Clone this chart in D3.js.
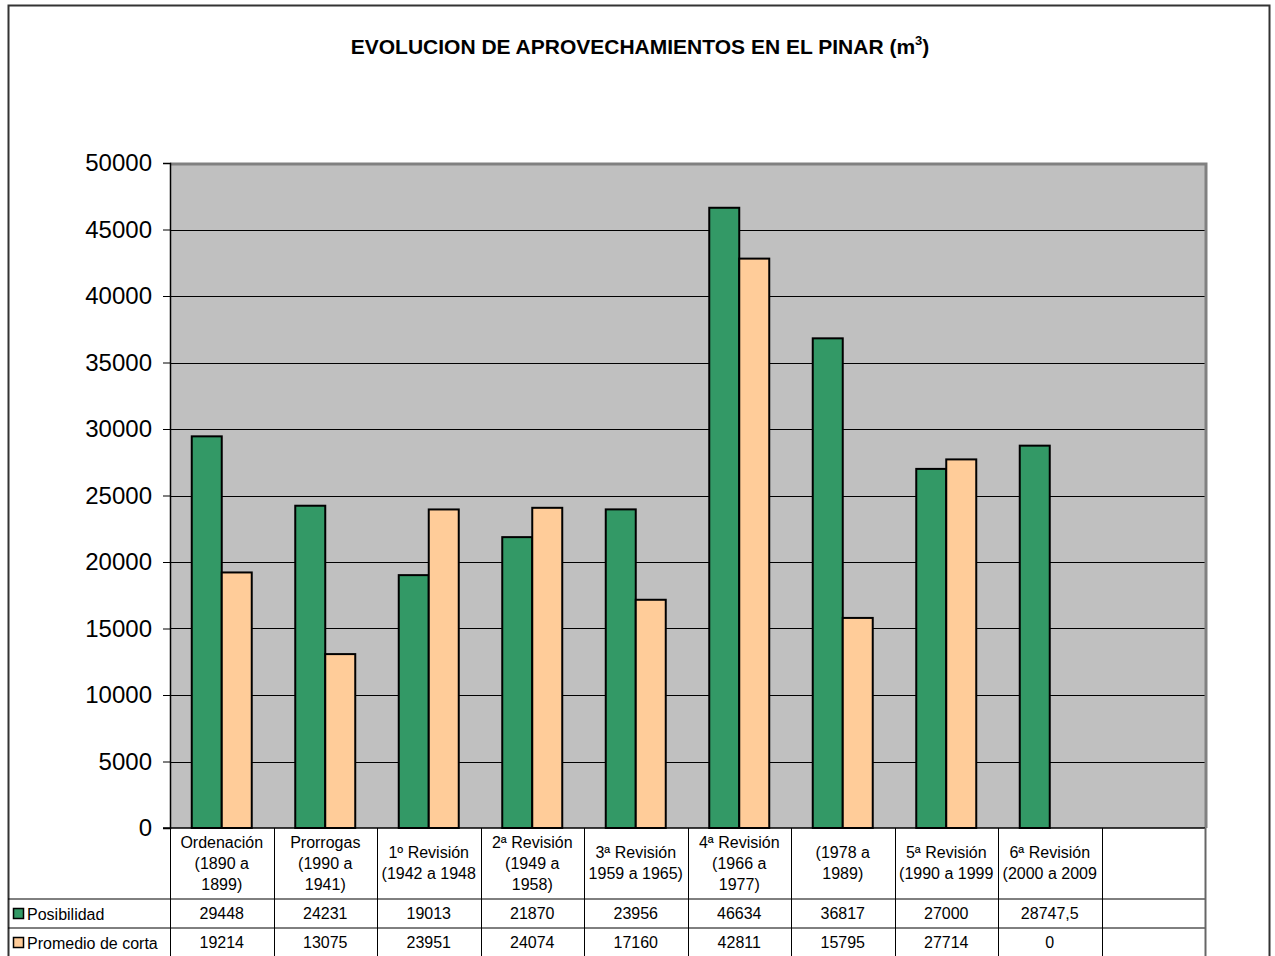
<!DOCTYPE html>
<html><head><meta charset="utf-8">
<script src="https://cdn.jsdelivr.net/npm/d3@7"></script>
<style>body{margin:0;background:#fff;}svg{display:block;font-family:"Liberation Sans",Arial,sans-serif;}</style>
</head><body>
<svg id="c" width="1275" height="956"></svg>
<script>
const categories = [
  ["Ordenación","(1890 a","1899)"],
  ["Prorrogas","(1990 a","1941)"],
  ["1º Revisión","(1942 a 1948"],
  ["2ª Revisión","(1949 a","1958)"],
  ["3ª Revisión","1959 a 1965)"],
  ["4ª Revisión","(1966 a","1977)"],
  ["(1978 a","1989)"],
  ["5ª Revisión","(1990 a 1999"],
  ["6ª Revisión","(2000 a 2009"],
  []
];
const seriesNames = ["Posibilidad","Promedio de corta"];
const posibilidad = [29448,24231,19013,21870,23956,46634,36817,27000,28747.5,null];
const promedio = [19214,13075,23951,24074,17160,42811,15795,27714,0,null];
const posibilidadLabels = ["29448","24231","19013","21870","23956","46634","36817","27000","28747,5",""];
const promedioLabels = ["19214","13075","23951","24074","17160","42811","15795","27714","0",""];
const yTicks = [0,5000,10000,15000,20000,25000,30000,35000,40000,45000,50000];
const colors = ["#339966","#FFCC99"];

const svg = d3.select("#c");
const L=170,R=1205,T=163,B=828;
svg.append("rect").attr("x",8.5).attr("y",5.5).attr("width",1261).attr("height",960).attr("fill","#fff").attr("stroke","#333").attr("stroke-width",2);

const title = svg.append("text").attr("x",640).attr("y",54).attr("text-anchor","middle").attr("font-weight","bold").attr("font-size",21);
title.append("tspan").text("EVOLUCION DE APROVECHAMIENTOS EN EL PINAR (m");
title.append("tspan").attr("font-size",13).attr("dy",-9).text("3");
title.append("tspan").attr("dy",9).text(")");

const x = d3.scaleBand().domain(d3.range(categories.length)).range([L,R]).padding(0);
const y = d3.scaleLinear().domain([0,50000]).range([B,T]);
const xs = d3.scaleBand().domain([0,1]).range([0,60]);

svg.append("rect").attr("x",L).attr("y",T).attr("width",R-L).attr("height",B-T).attr("fill","#C0C0C0");
svg.append("g").selectAll("line").data(yTicks.slice(1,-1)).join("line")
  .attr("x1",L).attr("x2",R).attr("y1",d=>Math.round(y(d))+0.5).attr("y2",d=>Math.round(y(d))+0.5).attr("stroke","#000").attr("stroke-width",1);
svg.append("path").attr("d",`M${L},${T+1}H${R+1}V${B}`).attr("fill","none").attr("stroke","#808080").attr("stroke-width",3);

const series=[posibilidad,promedio];
series.forEach((s,si)=>{
  svg.append("g").selectAll("rect").data(s.map((v,i)=>({v,i})).filter(d=>d.v)).join("rect")
    .attr("x",d=>x(d.i)+x.bandwidth()/2-30+xs(si))
    .attr("y",d=>y(d.v))
    .attr("width",xs.bandwidth())
    .attr("height",d=>B-y(d.v))
    .attr("fill",colors[si]).attr("stroke","#000").attr("stroke-width",2);
});

const ya = d3.axisLeft(y).tickValues(yTicks).tickSize(7).tickFormat(d3.format("d"));
const gy = svg.append("g").attr("transform",`translate(${L},0)`).call(ya);
gy.select(".domain").attr("stroke","#000").attr("stroke-width",1.5);
gy.selectAll(".tick line").attr("stroke","#000");
gy.selectAll("text").attr("font-size",24).attr("font-family","Liberation Sans, Arial").attr("fill","#000").attr("dx",-8);
svg.append("line").attr("x1",L-7).attr("x2",R).attr("y1",B).attr("y2",B).attr("stroke","#000").attr("stroke-width",1.5);

const tb = svg.append("g");
tb.append("line").attr("x1",8).attr("x2",R).attr("y1",899).attr("y2",899).attr("stroke","#000");
tb.append("line").attr("x1",8).attr("x2",R).attr("y1",928).attr("y2",928).attr("stroke","#000");
tb.selectAll("line.v").data(d3.range(categories.length+1)).join("line").attr("class","v")
  .attr("x1",i=>Math.round(i<categories.length?x(i):R)+0.5).attr("x2",i=>Math.round(i<categories.length?x(i):R)+0.5)
  .attr("y1",B).attr("y2",960).attr("stroke",i=>i==categories.length?"#666":"#000").attr("stroke-width",i=>i==categories.length?2:1);

categories.forEach((lines,i)=>{
  const cx=x(i)+x.bandwidth()/2;
  const start = lines.length==3?848:858;
  const t=tb.append("text").attr("text-anchor","middle").attr("font-size",16).attr("fill","#000");
  lines.forEach((ln,k)=>t.append("tspan").attr("x",cx).attr("y",start+k*21).text(ln));
  tb.append("text").attr("x",cx).attr("y",919).attr("text-anchor","middle").attr("font-size",16).text(posibilidadLabels[i]);
  tb.append("text").attr("x",cx).attr("y",948).attr("text-anchor","middle").attr("font-size",16).text(promedioLabels[i]);
});
seriesNames.forEach((n,si)=>{
  const yy=[914,943][si];
  tb.append("rect").attr("x",13.5).attr("y",yy-5.5).attr("width",10).attr("height",10).attr("fill",colors[si]).attr("stroke","#000").attr("stroke-width",1.5);
  tb.append("text").attr("x",27).attr("y",yy+6).attr("font-size",16).text(n);
});
</script>
</body></html>
